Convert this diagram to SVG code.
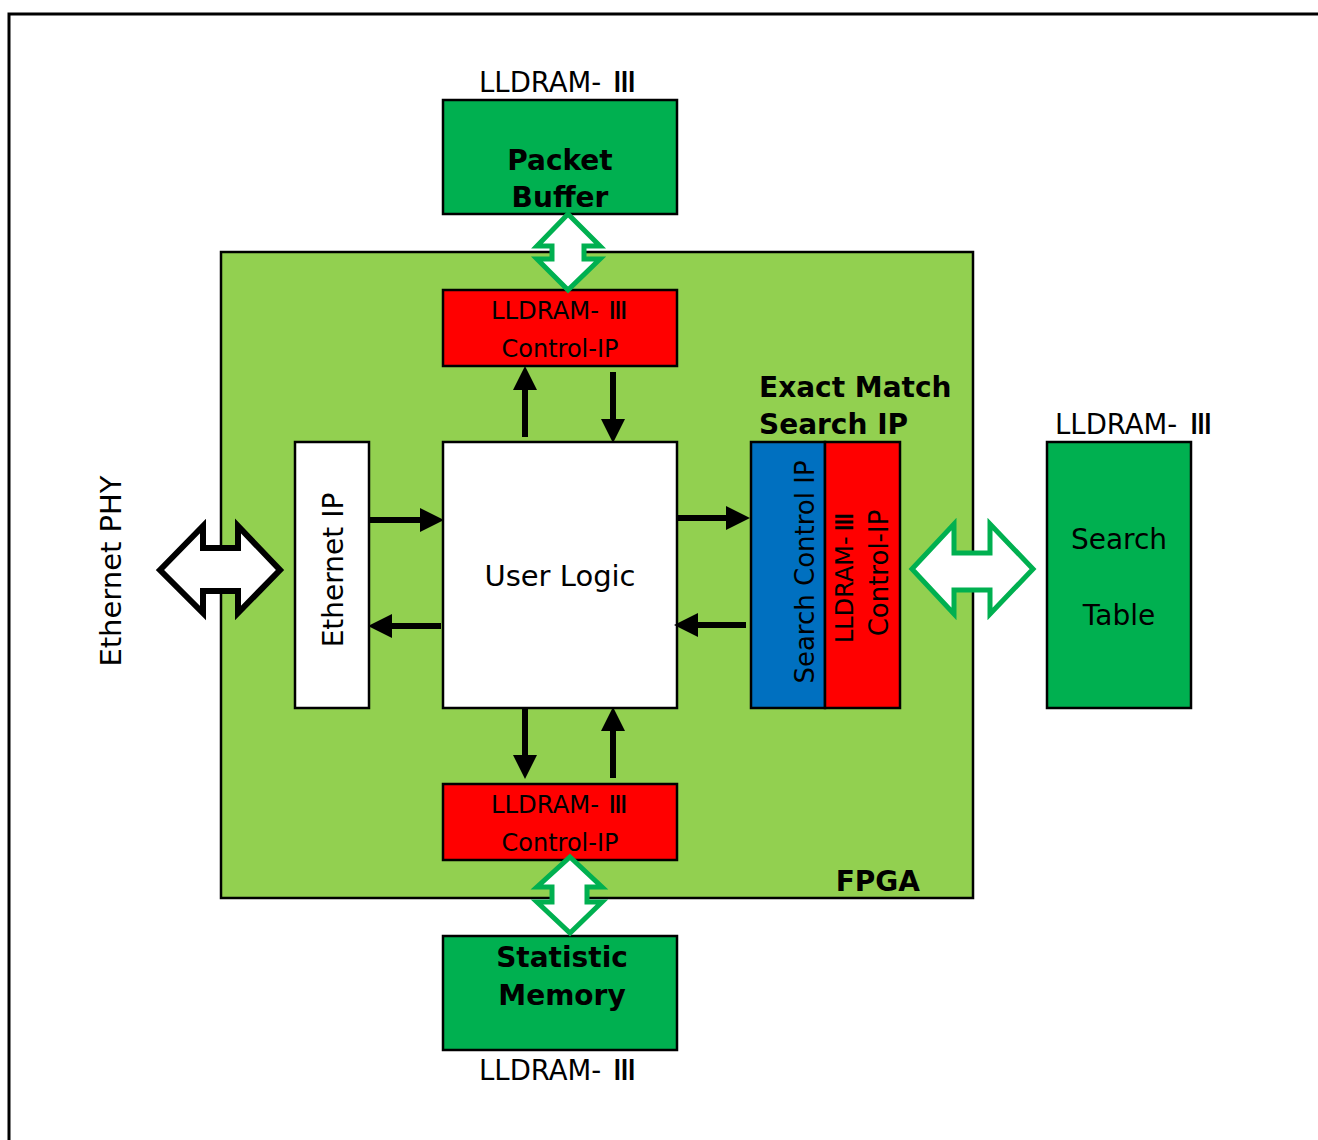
<svg xmlns="http://www.w3.org/2000/svg" width="1318" height="1140" viewBox="0 0 1318 1140">
<style>
.t{font-family:"DejaVu Sans","Noto Sans CJK JP",sans-serif;fill:#000}
.b{font-weight:bold}
.box{stroke:#000;stroke-width:2.5}
.mem{fill:#00B050}
.red{fill:#FF0000}
.wh{fill:#fff}
.garr{fill:#fff;stroke:#00B050;stroke-width:5;stroke-linejoin:miter}
.barr{fill:#fff;stroke:#000;stroke-width:6;stroke-linejoin:miter}
.ln{stroke:#000;stroke-width:6;fill:none}
</style>
<defs>
<marker id="ah" markerWidth="4" markerHeight="4" refX="0" refY="2" orient="auto" markerUnits="strokeWidth">
<path d="M0,0 L4,2 L0,4 Z" fill="#000"/>
</marker>
</defs>
<rect x="0" y="0" width="1318" height="1140" fill="#fff"/>
<path d="M9,1140 V14 H1318" fill="none" stroke="#000" stroke-width="3"/>

<g id="fpga">
<rect x="221" y="252" width="752" height="646" fill="#92D050" stroke="#000" stroke-width="2.5"/>
<text class="t b" x="920" y="891" font-size="28" text-anchor="end">FPGA</text>
</g>

<g id="packet-buffer">
<text class="t" x="479" y="92" font-size="27.5">LLDRAM-</text>
<text class="t" x="612" y="92" font-size="27.5" textLength="25" lengthAdjust="spacingAndGlyphs">Ⅲ</text>
<rect class="box mem" x="443" y="100" width="234" height="114"/>
<text class="t b" x="560" y="170" font-size="28" text-anchor="middle">Packet</text>
<text class="t b" x="560" y="207" font-size="28" text-anchor="middle">Buffer</text>
</g>

<g id="ctrl-top">
<rect class="box red" x="443" y="290" width="234" height="76"/>
<text class="t" x="491" y="319" font-size="24.3">LLDRAM-</text>
<text class="t" x="608" y="319" font-size="24.3" textLength="20" lengthAdjust="spacingAndGlyphs">Ⅲ</text>
<text class="t" x="560" y="357" font-size="24" text-anchor="middle">Control-IP</text>
</g>

<g id="user-logic">
<rect class="box wh" x="443" y="442" width="234" height="266"/>
<text class="t" x="560" y="586" font-size="29" text-anchor="middle">User Logic</text>
</g>

<g id="ethernet-ip">
<rect class="box wh" x="295" y="442" width="74" height="266"/>
<text class="t" font-size="28" text-anchor="middle" transform="translate(343,570) rotate(-90)">Ethernet IP</text>
</g>

<g id="ethernet-phy">
<text class="t" font-size="29" text-anchor="middle" transform="translate(121,571) rotate(-90)">Ethernet PHY</text>
</g>

<g id="exact-match">
<text class="t b" x="759" y="397" font-size="28">Exact Match</text>
<text class="t b" x="759" y="434" font-size="28">Search IP</text>
<rect class="box" x="751" y="442" width="74" height="266" fill="#0070C0"/>
<rect class="box red" x="825" y="442" width="75" height="266"/>
<text class="t" font-size="26" text-anchor="middle" transform="translate(814,572) rotate(-90)">Search Control IP</text>
<g transform="translate(853,577) rotate(-90)">
<text class="t" x="-66" y="0" font-size="24">LLDRAM-</text>
<text class="t" x="45" y="0" font-size="24" textLength="20" lengthAdjust="spacingAndGlyphs">Ⅲ</text>
</g>
<text class="t" font-size="26" text-anchor="middle" transform="translate(888,573) rotate(-90)">Control-IP</text>
</g>

<g id="search-table">
<text class="t" x="1055" y="434" font-size="27.5">LLDRAM-</text>
<text class="t" x="1189" y="434" font-size="27.5" textLength="24" lengthAdjust="spacingAndGlyphs">Ⅲ</text>
<rect class="box mem" x="1047" y="442" width="144" height="266"/>
<text class="t" x="1119" y="549" font-size="28" text-anchor="middle">Search</text>
<text class="t" x="1119" y="625" font-size="28" text-anchor="middle">Table</text>
</g>

<g id="ctrl-bottom">
<rect class="box red" x="443" y="784" width="234" height="76"/>
<text class="t" x="491" y="813" font-size="24.3">LLDRAM-</text>
<text class="t" x="608" y="813" font-size="24.3" textLength="20" lengthAdjust="spacingAndGlyphs">Ⅲ</text>
<text class="t" x="560" y="851" font-size="24" text-anchor="middle">Control-IP</text>
</g>

<g id="statistic-memory">
<rect class="box mem" x="443" y="936" width="234" height="114"/>
<text class="t b" x="562" y="967" font-size="28" text-anchor="middle">Statistic</text>
<text class="t b" x="562" y="1005" font-size="28" text-anchor="middle">Memory</text>
<text class="t" x="479" y="1080" font-size="27.5">LLDRAM-</text>
<text class="t" x="612" y="1080" font-size="27.5" textLength="25" lengthAdjust="spacingAndGlyphs">Ⅲ</text>
</g>

<g id="connectors">
<path class="garr" d="M568,214 L600,246 L584,246 L584,259 L600,259 L568,290 L537,259 L552,259 L552,246 L537,246 Z"/>
<path class="garr" d="M570,857 L602,887 L587,887 L587,902 L602,902 L570,933 L537,902 L552,902 L552,887 L537,887 Z"/>
<path class="garr" d="M912,569 L954,524 L954,553 L990,553 L990,524 L1033,569 L990,614 L990,590 L954,590 L954,614 Z"/>
<path class="barr" d="M160,570 L203,526 L203,548 L238,548 L238,526 L280,570 L238,613 L238,591 L203,591 L203,613 Z"/>

<line class="ln" x1="369" y1="520" x2="420" y2="520" marker-end="url(#ah)"/>
<line class="ln" x1="441" y1="626" x2="392" y2="626" marker-end="url(#ah)"/>
<line class="ln" x1="677" y1="518" x2="726" y2="518" marker-end="url(#ah)"/>
<line class="ln" x1="746" y1="625" x2="698" y2="625" marker-end="url(#ah)"/>
<line class="ln" x1="525" y1="437" x2="525" y2="390" marker-end="url(#ah)"/>
<line class="ln" x1="613" y1="372" x2="613" y2="419" marker-end="url(#ah)"/>
<line class="ln" x1="525" y1="708" x2="525" y2="755" marker-end="url(#ah)"/>
<line class="ln" x1="613" y1="778" x2="613" y2="731" marker-end="url(#ah)"/>
</g>
</svg>
